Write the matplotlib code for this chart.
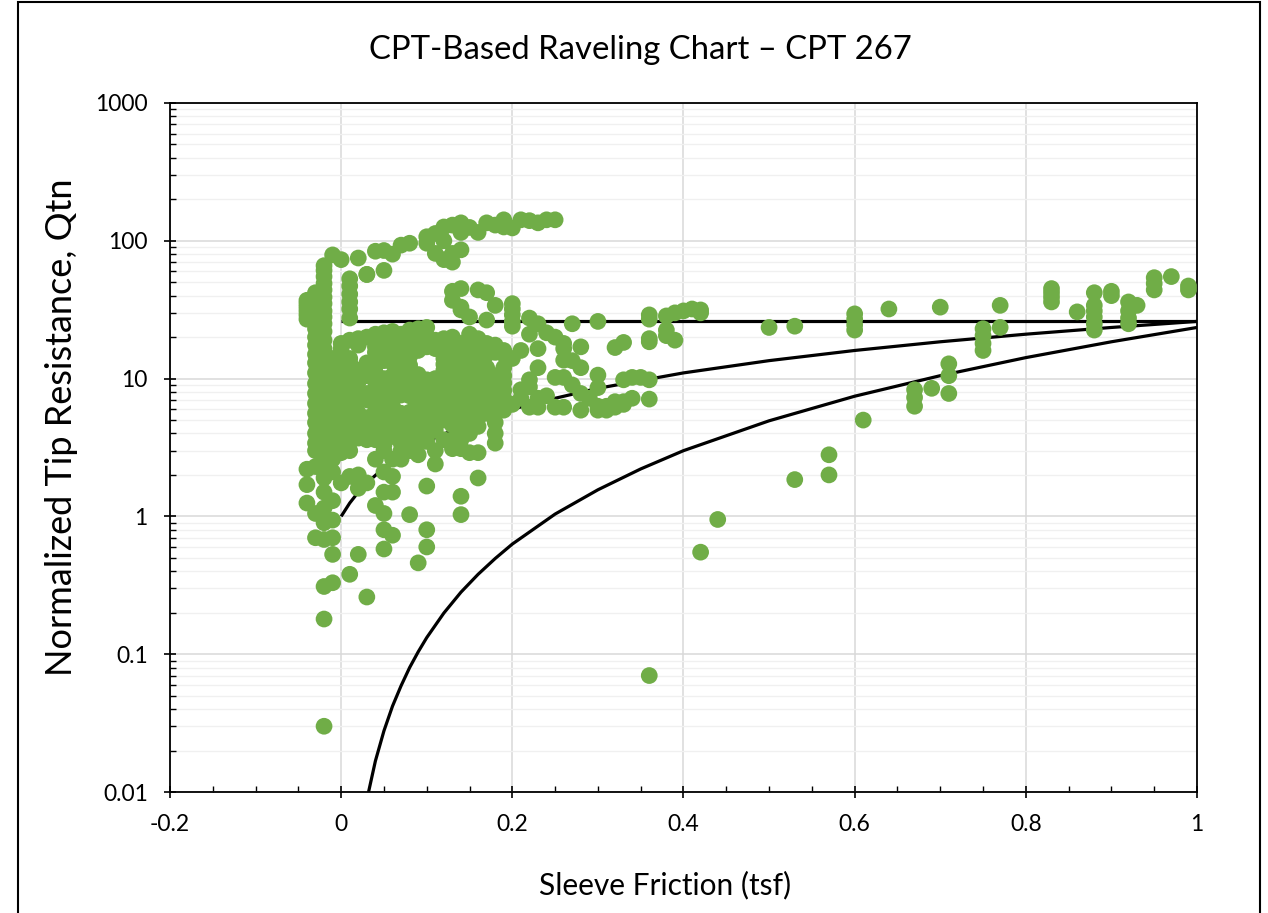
import matplotlib
matplotlib.use("Agg")
import matplotlib.pyplot as plt
from matplotlib.ticker import FixedLocator, FuncFormatter, LogLocator, MultipleLocator, NullFormatter
from matplotlib.patches import Rectangle

plt.rcParams['font.family'] = ['Lato', 'DejaVu Sans']

# Qtn readings grouped by sleeve friction (tsf) -> list of Qtn values
near_zero_cols = {
    -0.04: [1.25, 1.7, 2.2, 27, 29, 31, 33, 35, 37],
    -0.03: [0.7, 1.05, 2.3, 3.0, 3.4, 4.0, 4.8, 5.6, 6.6, 7.8, 9.2, 11, 13, 15,
            17.5, 20, 23, 26, 29, 33, 38, 42],
    -0.02: [0.03, 0.18, 0.31, 0.68, 0.9, 1.15, 1.5, 1.9, 2.1, 2.5, 2.9, 3.5, 4.2,
            5.0, 6.0, 7.2, 8.6, 10, 12, 14, 16.5, 19, 22, 25, 28, 31, 35, 39, 44,
            49, 55, 61, 66],
    -0.01: [0.33, 0.53, 0.7, 0.94, 1.3, 2.1, 2.6, 3.0, 3.3, 3.7, 4.2, 4.7, 5.2,
            5.8, 6.4, 7.1, 7.8, 8.6, 9.5, 10.5, 11.5, 12.7, 14, 79],
    0.00: [1.75, 2.9, 3.3, 3.7, 4.2, 4.6, 5.2, 5.7, 6.4, 7.0, 7.8, 8.6, 9.5, 10.5,
           11.5, 12.5, 14, 15, 16.5, 18, 73],
    0.01: [0.38, 1.95, 3.0, 3.5, 4.2, 4.8, 5.4, 6.0, 6.6, 7.3, 8.0, 8.9, 9.8, 10.8,
           11.8, 13, 14, 19, 27.5, 32, 36, 41, 47, 53],
    0.02: [0.53, 1.6, 2.0, 3.7, 4.3, 5.0, 5.6, 6.9, 7.6, 9.5, 10.5, 11.5,
           17.5, 19.5, 75],
    0.03: [0.26, 1.75, 3.6, 4.1, 4.6, 5.2, 7.0, 7.8, 10.5, 11.7, 13, 20, 57],
}

low_friction_cols = {
    0.04: [1.2, 2.6, 3.6, 4.2, 4.7, 5.2, 5.8, 6.4, 7.0, 7.6, 8.5, 9.5, 11, 12.5, 14,
           15.5, 17, 21],
    0.05: [0.58, 0.8, 1.05, 1.5, 2.1, 3.0, 3.3, 3.7, 4.3, 5.0, 5.6, 6.2, 7.3, 8.6,
           10, 13.5, 16, 18, 21.5],
    0.06: [0.73, 1.5, 1.95, 2.6, 3.8, 4.6, 5.2, 5.7, 6.3, 7.0, 8.5, 10.5, 13,
           15.5, 17.5, 19.5, 22],
    0.07: [2.6, 3.0, 3.4, 4.2, 5.0, 5.6, 7.6, 8.5, 9.5, 10.7, 12, 14, 17,
           19, 21],
    0.08: [1.03, 3.0, 3.7, 4.3, 5.0, 5.7, 7.5, 8.6, 9.5, 10.5, 12.5, 14.5, 16.5,
           20, 22.5],
    0.09: [0.46, 2.8, 3.5, 4.2, 4.9, 5.7, 6.3, 7.0, 8.2, 9.5, 10.7, 16, 18.5, 23],
    0.10: [0.6, 0.8, 1.66, 3.5, 4.0, 4.6, 5.4, 6.2, 6.9, 7.6, 8.7, 9.8, 17,
           20, 23.5],
    0.11: [2.4, 3.0, 4.2, 5.0, 5.6, 6.4, 7.2, 8.6, 10, 16.5, 19],
    0.12: [3.6, 5.0, 5.7, 6.3, 7.0, 8.2, 9.3, 10.4, 11.5, 12.7, 14, 15.5, 17,
           19.5],
}

mid_friction_cols = {
    0.13: [3.1, 3.6, 4.6, 5.3, 6.2, 7.3, 8.6, 9.8, 11, 12, 13.5, 15, 17, 19, 20,
           37, 43],
    0.14: [1.03, 1.4, 3.1, 3.6, 4.4, 4.6, 5.0, 5.5, 6.2, 7.0, 7.6, 8.3, 8.7, 9.8, 11,
           12.5, 14, 16, 18, 31.5, 33, 45],
    0.15: [2.9, 4.0, 5.0, 5.6, 6.3, 7.0, 8.0, 9.0, 10.5, 12.5, 14, 16, 18.5, 21, 28],
    0.16: [1.9, 2.9, 4.5, 5.2, 5.9, 6.6, 7.2, 7.8, 8.8, 10, 11.5, 13, 15, 17, 19.5, 44],
    0.17: [5.6, 6.2, 7.0, 8.2, 9.5, 11, 12, 15, 18, 26.6, 42],
    0.18: [3.4, 4.0, 4.8, 5.8, 6.6, 7.5, 9.0, 10.5, 15.5, 17.5, 34],
    0.19: [5.9, 7.0, 7.2, 8.2, 9.3, 10.5, 12, 15, 16],
    0.20: [6.5, 14, 24, 26, 29, 32, 35],
    0.21: [7.2, 8.3, 16],
    0.22: [6.2, 8.7, 9.8, 21, 27.5],
    0.23: [6.2, 7.2, 12, 16.5, 25],
    0.24: [7.5, 21.5],
    0.25: [6.2, 10.2, 20],
    0.26: [6.2, 10.2, 13.6, 16.5, 18],
    0.27: [9.0, 13.5, 25],
    0.28: [5.9, 7.8, 12, 17],
    0.29: [7.2],
    0.30: [5.9, 6.3, 8.6, 10.6, 26],
    0.31: [5.9, 6.3],
    0.32: [6.2, 6.8, 16.8],
    0.33: [6.5, 6.8, 9.8, 18.3],
    0.34: [7.2, 10.2],
    0.35: [10.2],
    0.36: [0.07, 7.1, 9.8, 18.5, 19.5, 27, 29],
    0.38: [20.5, 22.5, 28.5],
    0.39: [19, 30],
    0.40: [31],
    0.41: [32],
    0.42: [0.55, 30, 31.5],
    0.44: [0.95],
}

high_friction_cols = {
    0.50: [23.5],
    0.53: [1.85, 24],
    0.57: [2.0, 2.8],
    0.60: [22.5, 24.5, 27, 29.5],
    0.61: [5.0],
    0.64: [32],
    0.67: [6.3, 7.3, 8.3],
    0.69: [8.5],
    0.70: [33],
    0.71: [7.8, 10.5, 12.8],
    0.75: [16, 18, 20.5, 23],
    0.77: [23.5, 34],
    0.83: [36, 39, 42, 45],
    0.86: [30.5],
    0.88: [22.5, 25, 28, 31, 34, 42],
    0.90: [40, 43],
    0.92: [25, 27.5, 31, 36],
    0.93: [34],
    0.95: [44, 49, 54],
    0.97: [55],
    0.99: [44, 47],
}

# Dense-sand band near Qtn ~ 100
upper_sf = [0.03, 0.04, 0.05, 0.05, 0.06, 0.07, 0.08, 0.10, 0.10, 0.11, 0.11,
            0.12, 0.12, 0.12, 0.13, 0.13, 0.13, 0.14, 0.14, 0.14, 0.15, 0.16,
            0.17, 0.18, 0.19, 0.19, 0.20, 0.21, 0.22, 0.23, 0.24, 0.25]
upper_qtn = [57, 84, 85, 61, 80, 93, 96, 96, 107, 81, 113,
             100, 73, 126, 70, 130, 81, 86, 135, 115, 125, 115,
             135, 130, 126, 142, 124, 142, 140, 135, 142, 142]

# Raveling boundary lines
upper_limit_sf = [0.0, 1.0]
upper_limit_qtn = [26, 26]

mid_boundary_sf = [0.0, 0.01, 0.02, 0.03, 0.05, 0.075, 0.1, 0.15, 0.2, 0.25,
                   0.3, 0.4, 0.5, 0.6, 0.7, 0.8, 0.9, 1.0]
mid_boundary_qtn = [1.0, 1.25, 1.5, 1.75, 2.25, 2.9, 3.5, 4.75, 6.0, 7.2,
                    8.5, 11, 13.5, 16, 18.5, 21, 23.5, 26]

low_boundary_sf = [0.032, 0.04, 0.05, 0.06, 0.07, 0.08, 0.09, 0.1, 0.12, 0.14,
                   0.16, 0.18, 0.2, 0.25, 0.3, 0.35, 0.4, 0.5, 0.6, 0.7, 0.8,
                   0.9, 1.0]
low_boundary_qtn = [0.0100, 0.0168, 0.0278, 0.042, 0.059, 0.080, 0.104, 0.132,
                    0.199, 0.282, 0.38, 0.495, 0.63, 1.04, 1.56, 2.21, 3.0, 4.94,
                    7.45, 10.5, 14.2, 18.5, 23.5]

x_ticks = [-0.2, 0.0, 0.2, 0.4, 0.6, 0.8, 1.0]
y_ticks = [0.01, 0.1, 1, 10, 100, 1000]


def columns_to_points(cols):
    xs, ys = [], []
    for sf, values in cols.items():
        xs.extend([sf] * len(values))
        ys.extend(values)
    return xs, ys


sf_all, qtn_all = [], []
for group in (near_zero_cols, low_friction_cols, mid_friction_cols, high_friction_cols):
    gx, gy = columns_to_points(group)
    sf_all += gx
    qtn_all += gy
sf_all += upper_sf
qtn_all += upper_qtn

W, H = 1268, 913
fig = plt.figure(figsize=(W / 100, H / 100), dpi=100)
fig.patch.set_facecolor('white')

# chart-area border
fig.add_artist(Rectangle((18 / W, -0.02), (1260 - 18) / W, 1.0 - 2.5 / H + 0.02,
                         transform=fig.transFigure, fill=False,
                         edgecolor='black', linewidth=1.5))

ax = fig.add_axes([170 / W, 1 - 792 / H, (1197 - 170) / W, (792 - 103) / H])
ax.set_yscale('log')
ax.set_xlim(-0.2, 1.0)
ax.set_ylim(0.01, 1000)

ax.xaxis.set_major_locator(FixedLocator(x_ticks))
ax.xaxis.set_minor_locator(MultipleLocator(0.05))
ax.yaxis.set_major_locator(FixedLocator(y_ticks))
ax.yaxis.set_minor_locator(LogLocator(base=10, subs=range(2, 10), numticks=20))
fmt = FuncFormatter(lambda v, p: f'{v:g}')
ax.xaxis.set_major_formatter(fmt)
ax.yaxis.set_major_formatter(fmt)
ax.yaxis.set_minor_formatter(NullFormatter())

ax.set_axisbelow(True)
ax.grid(which='major', color='#d9d9d9', linewidth=1.1)
ax.yaxis.grid(which='minor', color='#f0f0f0', linewidth=1.0)
ax.xaxis.grid(which='minor', visible=False)

ax.tick_params(which='major', direction='inout', length=8, width=1.2,
               labelsize=16.5, pad=12, colors='black')
ax.tick_params(which='minor', direction='in', length=4.5, width=1.0)
for s in ax.spines.values():
    s.set_color('black')
    s.set_linewidth(1.3)

line_kw = dict(color='black', linewidth=2.3, zorder=2.5, solid_capstyle='butt')
ax.plot(upper_limit_sf, upper_limit_qtn, **line_kw)
ax.plot(mid_boundary_sf, mid_boundary_qtn, **line_kw)
ax.plot(low_boundary_sf, low_boundary_qtn, **line_kw)

ax.scatter(sf_all, qtn_all, s=145, color='#70AD47', edgecolors='none', zorder=3)

fig.text(640 / W, 1 - 50 / H, 'CPT-Based Raveling Chart \u2013 CPT 267',
         ha='center', va='center', fontsize=23.7)
fig.text(62 / W, 1 - 427 / H, 'Normalized Tip Resistance, Qtn', rotation=90,
         ha='center', va='center', fontsize=26)
fig.text(665 / W, 1 - 885 / H, 'Sleeve Friction (tsf)',
         ha='center', va='center', fontsize=21.5)

fig.savefig('out.png', dpi=100)
